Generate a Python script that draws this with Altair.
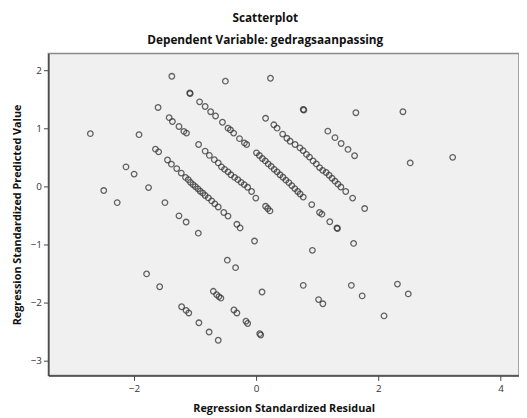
import altair as alt
import pandas as pd

# Regression Standardized Residual (x) and Regression Standardized Predicted Value (y)
residual = [
    # line A
    -1.648, -1.596, -1.451, -1.387, -1.300, -1.226, -1.156, -1.111, -1.075, -1.034,
    -0.995, -0.953, -0.915, -0.873, -0.835, -0.782, -0.729, -0.677, -0.621, -0.530,
    -0.461, -0.316, -0.263, -0.027, 0.770, 1.021, 1.091, -1.917,
    # line B
    -1.605, -1.424, -1.371, -1.263, -1.183, -1.140, -0.942, -0.835, -0.766, -0.685,
    -0.621, -0.568, -0.517, -0.461, -0.413, -0.353, -0.300, -0.247, -0.196, -0.140,
    -0.075, -0.006, 0.154, 0.225, 0.189, 0.920, 1.557, 1.734, 2.092,
    # line C
    -1.380, -1.087, -1.080, -0.926, -0.835, -0.745, -0.665, -0.552, -0.461, -0.421,
    -0.369, -0.273, -0.193, -0.156, 0.005, 0.053, 0.101, 0.149, 0.197, 0.246,
    0.294, 0.342, 0.390, 0.438, 0.486, 0.535, 0.583, 0.631, 0.679, 0.719,
    0.770, 0.909, 1.037, 1.075, 1.204, 1.321, 1.330, 1.594, 2.311, 2.488,
    # line D
    -0.504, 0.154, 0.289, 0.342, 0.433, 0.502, 0.555, 0.636, 0.716, 0.767,
    0.823, 0.872, 0.931, 0.984, 1.037, 1.088, 1.144, 1.193, 1.241, 1.289,
    1.337, 1.385, 1.465, 1.578, 1.775,
    # line E
    0.234, 0.770, 0.780, 1.172, 1.289, 1.390, 1.502, 1.610,
    # lines F, G
    1.631, 2.520, 2.401, 3.215,
    # line H
    -2.713, -2.130, -1.997, -1.761, -1.493, -1.263, -1.146, -0.947, -0.472, -0.337,
    0.096,
    # line I
    -2.494, -2.274, -0.701, -0.648, -0.610, -0.578, -0.364, -0.316, -0.167, -0.140,
    0.058, 0.074,
    # line J
    -1.793, -1.579, -1.220, -1.146, -1.103, -0.937, -0.770, -0.621,
]
predicted = [
    # line A
    0.644, 0.598, 0.458, 0.385, 0.310, 0.232, 0.158, 0.119, 0.073, 0.034,
    0.000, -0.039, -0.080, -0.114, -0.153, -0.195, -0.246, -0.297, -0.351, -0.446,
    -0.508, -0.649, -0.712, -0.937, -1.700, -1.944, -2.017, 0.893,
    # line B
    1.361, 1.186, 1.119, 1.034, 0.949, 0.920, 0.724, 0.610, 0.537, 0.463,
    0.407, 0.339, 0.297, 0.254, 0.203, 0.158, 0.119, 0.073, 0.034, -0.012,
    -0.085, -0.198, -0.339, -0.419, -0.378, -1.097, -1.700, -1.881, -2.225,
    # line C
    1.898, 1.610, 1.600, 1.458, 1.378, 1.288, 1.215, 1.107, 1.005, 0.975,
    0.920, 0.825, 0.751, 0.724, 0.581, 0.534, 0.483, 0.441, 0.390, 0.347,
    0.297, 0.254, 0.203, 0.161, 0.110, 0.068, 0.017, -0.034, -0.085, -0.127,
    -0.181, -0.310, -0.446, -0.475, -0.605, -0.712, -0.722, -0.978, -1.678, -1.847,
    # line D
    1.814, 1.175, 1.063, 1.005, 0.903, 0.831, 0.780, 0.724, 0.666, 0.619,
    0.554, 0.508, 0.441, 0.390, 0.327, 0.280, 0.242, 0.195, 0.144, 0.093,
    0.042, -0.008, -0.085, -0.198, -0.378,
    # line E
    1.864, 1.327, 1.317, 0.954, 0.842, 0.741, 0.639, 0.531,
    # lines F, G
    1.271, 0.407, 1.288, 0.503,
    # line H
    0.910, 0.339, 0.215, -0.017, -0.276, -0.503, -0.610, -0.802, -1.266, -1.395,
    -1.814,
    # line I
    -0.068, -0.276, -1.802, -1.859, -1.893, -1.920, -2.124, -2.175, -2.317, -2.356,
    -2.531, -2.554,
    # line J
    -1.503, -1.724, -2.068, -2.131, -2.175, -2.344, -2.503, -2.644,
]

x_ticks = [-2, 0, 2, 4]
y_ticks = [-3, -2, -1, 0, 1, 2]

df = pd.DataFrame({"residual": residual, "predicted": predicted})

FONT = "Open Sans"

chart = (
    alt.Chart(df)
    .mark_point(shape="circle", filled=False, size=32, strokeWidth=1.3,
                color="#333333", opacity=0.75)
    .encode(
        x=alt.X("residual:Q",
                scale=alt.Scale(domain=[-3.4, 4.3], nice=False, zero=False),
                axis=alt.Axis(values=x_ticks, title="Regression Standardized Residual",
                              grid=False, tickSize=5, labelPadding=3, titlePadding=10)),
        y=alt.Y("predicted:Q",
                scale=alt.Scale(domain=[-3.25, 2.29], nice=False, zero=False),
                axis=alt.Axis(values=y_ticks, title="Regression Standardized Predicted Value",
                              grid=False, tickSize=5, labelPadding=2, titlePadding=8)),
    )
    .properties(
        width=478,
        height=327,
        padding={"left": 3, "top": 1, "right": 0, "bottom": 0},
        title=alt.TitleParams(
            text="Scatterplot",
            subtitle="Dependent Variable: gedragsaanpassing",
            anchor="middle",
            frame="bounds",
            font=FONT, fontSize=12, fontWeight="bold", color="#111111",
            subtitleFont=FONT, subtitleFontSize=12, subtitleFontWeight="bold",
            subtitleColor="#111111", subtitlePadding=10, offset=7,
        ),
    )
    .configure_view(fill="#f0f0f0", stroke="#8a8a8a", strokeWidth=1.5)
    .configure_axis(
        domainColor="#444444", domainWidth=1.5, tickColor="#444444", tickWidth=1,
        labelFont=FONT, labelFontSize=10, labelColor="#333333",
        titleFont=FONT, titleFontSize=11, titleFontWeight="bold", titleColor="#111111",
    )
)

chart.save("out.html", embed_options={"renderer": "svg", "actions": False})
